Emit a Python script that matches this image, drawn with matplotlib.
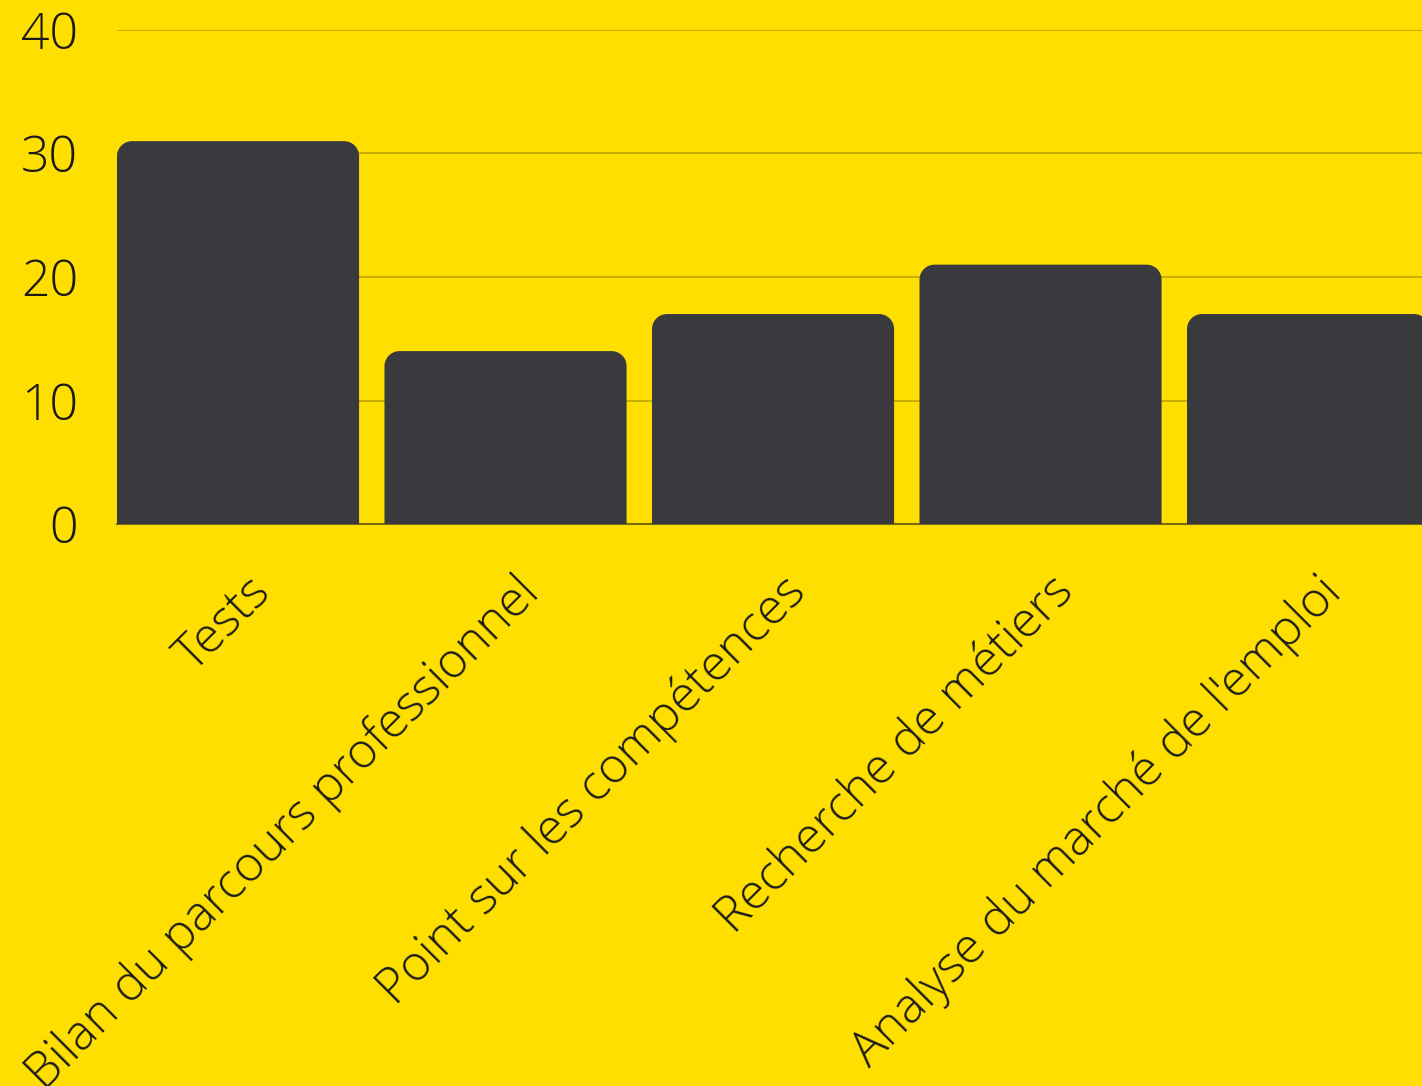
import matplotlib.pyplot as plt
from matplotlib.path import Path
from matplotlib.patches import PathPatch
from matplotlib.transforms import ScaledTranslation

categories = ['Tests', 'Bilan du parcours professionnel', 'Point sur les compétences',
              'Recherche de métiers', "Analyse du marché de l'emploi"]
values = [31, 14, 17, 21, 17]
yticks = [0, 10, 20, 30, 40]

bg = '#ffdf00'
bar_color = '#3a393e'
grid_color = '#c4a800'

plt.rcParams['font.family'] = ['Open Sans', 'DejaVu Sans']

fig = plt.figure(figsize=(14.22, 10.86), dpi=100, facecolor=bg)
ax = fig.add_axes([117 / 1422, 562 / 1086, 1 - 117 / 1422, 494 / 1086])
ax.set_facecolor(bg)

width = 0.905
bars = ax.bar(range(len(values)), values, width=width, color='none')

ax.set_xlim(-width / 2, -width / 2 + 1305 / 267.5)
ax.set_ylim(0, 40)

# rounded top corners (radius in pixels converted to data units)
rx = 15 / 267.5
ry = 15 / 12.35
k = 0.5523
for b in bars:
    x0, y0 = b.get_x(), 0
    x1, y1 = x0 + b.get_width(), b.get_height()
    verts = [
        (x0, y0), (x0, y1 - ry),
        (x0, y1 - ry + k * ry), (x0 + rx - k * rx, y1), (x0 + rx, y1),
        (x1 - rx, y1),
        (x1 - rx + k * rx, y1), (x1, y1 - ry + k * ry), (x1, y1 - ry),
        (x1, y0), (x0, y0),
    ]
    codes = [Path.MOVETO, Path.LINETO,
             Path.CURVE4, Path.CURVE4, Path.CURVE4,
             Path.LINETO,
             Path.CURVE4, Path.CURVE4, Path.CURVE4,
             Path.LINETO, Path.CLOSEPOLY]
    ax.add_patch(PathPatch(Path(verts, codes), facecolor=bar_color,
                           edgecolor='none', zorder=3))

ax.set_yticks(yticks)
ax.set_yticklabels([str(t) for t in yticks], fontsize=36, fontweight='light', color='#1a1a1a')
ax.yaxis.grid(True, color=grid_color, linewidth=1.3, zorder=0)
ax.set_axisbelow(True)

ax.set_xticks(range(len(categories)))
ax.set_xticklabels(categories, rotation=45, ha='right', rotation_mode='anchor',
                   fontsize=35.5, fontweight='light', color='#1a1a1a')
ax.tick_params(axis='both', length=0)
ax.tick_params(axis='y', pad=28)
ax.tick_params(axis='x', pad=31)

# nudge rotated labels a little to the right
shift = ScaledTranslation(8 / 100, 0, fig.dpi_scale_trans)
for lab in ax.get_xticklabels():
    lab.set_transform(lab.get_transform() + shift)

for s in ['top', 'right', 'left']:
    ax.spines[s].set_visible(False)
ax.spines['bottom'].set_color('#7a6c10')
ax.spines['bottom'].set_linewidth(1.5)

fig.savefig('out.png', dpi=100, facecolor=bg)
